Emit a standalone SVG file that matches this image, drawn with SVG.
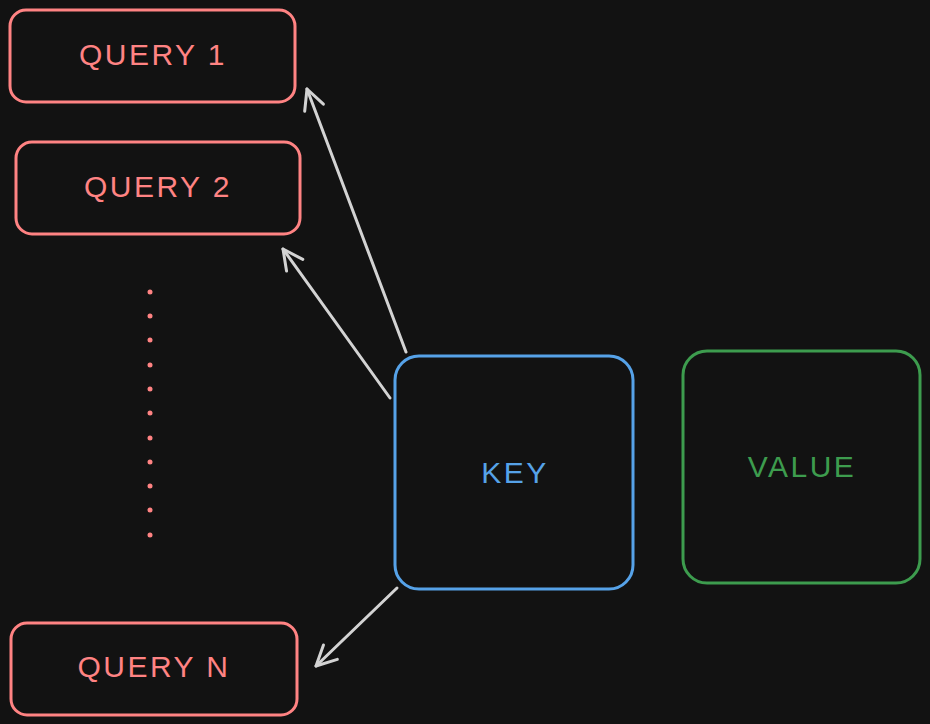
<svg xmlns="http://www.w3.org/2000/svg" width="930" height="724" viewBox="0 0 930 724">
<defs>
<style>
.box{fill:#121212;stroke-width:3;}
.q{stroke:#ff8383;}
.lbl{font-family:"Liberation Sans",Arial,sans-serif;font-size:30px;letter-spacing:2.5px;text-anchor:middle;}
.qt{fill:#ff8383;}
.edge{stroke:#d3d3d3;stroke-width:3;fill:none;stroke-linecap:round;}
.dot{fill:#ff8383;}
</style>
<marker id="ah" viewBox="0 0 24 24" refX="22" refY="12" markerWidth="24" markerHeight="24" markerUnits="userSpaceOnUse" orient="auto">
<path d="M2,2 L22,12 L2,22" fill="none" stroke="#d3d3d3" stroke-width="3" stroke-linecap="round" stroke-linejoin="round"/>
</marker>
</defs>
<rect width="930" height="724" fill="#121212"/>
<g id="query1">
<rect class="box q" x="10" y="10" width="285" height="92" rx="16"/>
<text class="lbl qt" x="153" y="65">QUERY 1</text>
</g>
<g id="query2">
<rect class="box q" x="16" y="142" width="284" height="92" rx="16"/>
<text class="lbl qt" x="158" y="197">QUERY 2</text>
</g>
<g id="dots">
<circle class="dot" cx="150" cy="292" r="2.5"/>
<circle class="dot" cx="150" cy="316" r="2.5"/>
<circle class="dot" cx="150" cy="340" r="2.5"/>
<circle class="dot" cx="150" cy="365" r="2.5"/>
<circle class="dot" cx="150" cy="389" r="2.5"/>
<circle class="dot" cx="150" cy="413" r="2.5"/>
<circle class="dot" cx="150" cy="438" r="2.5"/>
<circle class="dot" cx="150" cy="462" r="2.5"/>
<circle class="dot" cx="150" cy="486" r="2.5"/>
<circle class="dot" cx="150" cy="510" r="2.5"/>
<circle class="dot" cx="150" cy="535" r="2.5"/>
</g>
<g id="queryN">
<rect class="box q" x="11" y="623" width="286" height="92" rx="16"/>
<text class="lbl qt" x="154" y="677">QUERY N</text>
</g>
<g id="key">
<rect class="box" stroke="#56a2e8" x="395" y="356" width="238" height="233" rx="24"/>
<text class="lbl" fill="#56a2e8" x="515" y="483">KEY</text>
</g>
<g id="value">
<rect class="box" stroke="#3d9c4e" x="683" y="351" width="237" height="232" rx="24"/>
<text class="lbl" fill="#3d9c4e" x="802" y="477">VALUE</text>
</g>
<g id="connectors">
<line class="edge" x1="406" y1="352" x2="307" y2="89" marker-end="url(#ah)"/>
<line class="edge" x1="390" y1="398" x2="283" y2="249" marker-end="url(#ah)"/>
<line class="edge" x1="397" y1="588" x2="316" y2="666" marker-end="url(#ah)"/>
</g>
</svg>
